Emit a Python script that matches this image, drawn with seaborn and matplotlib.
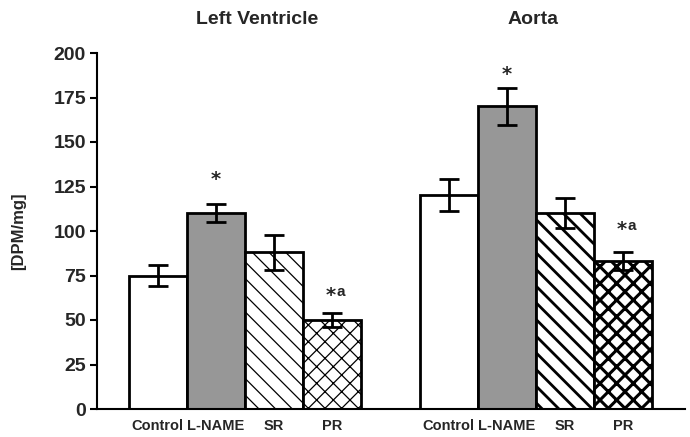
import numpy as np
import pandas as pd
import matplotlib
matplotlib.use("Agg")
import matplotlib.pyplot as plt
import matplotlib.transforms as mtransforms
from matplotlib.textpath import TextPath
from matplotlib.font_manager import FontProperties
import seaborn as sns

# ---- data ----
tissues = ["Left Ventricle", "Aorta"]
groups = ["Control", "L-NAME", "SR", "PR"]
lv_values = [75, 110, 88, 50]
lv_errors = [6, 5, 10, 4]
ao_values = [120, 170, 110, 83]
ao_errors = [9, 10.5, 8.5, 5]
lv_marks = ["", "*", "", "*a"]
lv_star_y = [0, 131.7, 0, 66.3]
ao_marks = ["", "*", "", "*a"]
ao_star_y = [0, 190.4, 0, 103.1]
yticks = [0, 25, 50, 75, 100, 125, 150, 175, 200]

# ---- style ----
sns.set_style("ticks")
plt.rcParams['font.family'] = ['Liberation Sans', 'DejaVu Sans']
plt.rcParams['font.weight'] = 'bold'

colors = {"Control": "white", "L-NAME": "#979797", "SR": "white", "PR": "white"}
hatches = {("Left Ventricle", "SR"): ("\\\\", 0.9),
           ("Left Ventricle", "PR"): ("xx", 0.9),
           ("Aorta", "SR"): ("\\\\", 2.0),
           ("Aorta", "PR"): ("xx", 2.2)}

df = pd.DataFrame({
    "tissue": np.repeat(tissues, len(groups)),
    "group": groups * len(tissues),
    "value": lv_values + ao_values,
})
err_map = {("Left Ventricle", g): e for g, e in zip(groups, lv_errors)}
err_map.update({("Aorta", g): e for g, e in zip(groups, ao_errors)})
val_map = {("Left Ventricle", g): v for g, v in zip(groups, lv_values)}
val_map.update({("Aorta", g): v for g, v in zip(groups, ao_values)})
mark_map = {("Left Ventricle", g): (m, y) for g, m, y in zip(groups, lv_marks, lv_star_y)}
mark_map.update({("Aorta", g): (m, y) for g, m, y in zip(groups, ao_marks, ao_star_y)})

# star glyph metrics (ink box) so the star is centred on its y value
star_prop = FontProperties(family="DejaVu Sans", weight="bold")
ext = TextPath((0, 0), "*", size=1, prop=star_prop).get_extents()
star_size = 6.8 / ext.width           # ~9.5 px wide star
star_dy = -(ext.y0 + ext.y1) / 2 * star_size
star_dx = -(ext.x0 + ext.x1) / 2 * star_size

fig = plt.figure(figsize=(6.9, 4.37), dpi=100)
ax = fig.add_axes([97 / 690, 1 - 409 / 437, (685 - 97) / 690, (409 - 53) / 437])

sns.barplot(data=df, x="tissue", y="value", hue="group", order=tissues,
            hue_order=groups, palette=colors, saturation=1, edgecolor="black",
            linewidth=2, errorbar=None, legend=False, width=0.8, ax=ax)

bar_containers = list(ax.containers)
tick_pos, tick_lab = [], []
for gi, cont in enumerate(bar_containers):
    g = groups[gi]
    for ti, bar in enumerate(cont):
        t = tissues[ti]
        key = (t, g)
        if key in hatches:
            h, hlw = hatches[key]
            bar.set_hatch(h)
            if hasattr(bar, "set_hatch_linewidth"):
                bar.set_hatch_linewidth(hlw)
            else:
                bar._hatch_linewidth = hlw
        cx = bar.get_x() + bar.get_width() / 2
        tick_pos.append(cx)
        tick_lab.append(g)
        ax.errorbar(cx, val_map[key], yerr=err_map[key], fmt="none", ecolor="black",
                    elinewidth=2, capsize=7.5, capthick=2, zorder=5)
        m, my = mark_map[key]
        if m:
            sx = 0 if m == "*" else -1
            ax.annotate("*", (cx, my), xytext=(sx + star_dx, star_dy),
                        textcoords="offset points", ha="left", va="baseline",
                        fontsize=star_size, fontweight="bold", family="DejaVu Sans")
            if len(m) > 1:
                ax.annotate(m[1:], (cx, my), xytext=(3.0, -3.6),
                            textcoords="offset points", ha="left", va="baseline",
                            fontsize=11, fontweight="bold")

ax.set_xticks(tick_pos)
ax.set_xticklabels(tick_lab, fontsize=10.5, fontweight="bold")
ax.tick_params(axis="x", length=0, pad=7)
ax.set_xlim(-0.509, 1.512)
ax.set_ylim(0, 200)
ax.set_yticks(yticks)
ax.set_yticklabels([str(v) for v in yticks], fontsize=14, fontweight="bold")
ax.tick_params(axis="y", length=5, width=1.5, pad=3, color="black")
ax.set_xlabel("")
ax.set_ylabel("[DPM/mg]", fontsize=12, fontweight="bold")
ax.yaxis.set_label_coords(-0.121, 0.5)
for s in ["top", "right"]:
    ax.spines[s].set_visible(False)
for s in ["left", "bottom"]:
    ax.spines[s].set_linewidth(1.5)
    ax.spines[s].set_color("black")

trans = mtransforms.blended_transform_factory(ax.transData, fig.transFigure)
ax.text(0.04, 1 - 20 / 437, tissues[0], transform=trans, ha="center", va="center",
        fontsize=14, fontweight="bold")
ax.text(0.99, 1 - 20 / 437, tissues[1], transform=trans, ha="center", va="center",
        fontsize=14, fontweight="bold")

fig.savefig("out.png", dpi=100)
